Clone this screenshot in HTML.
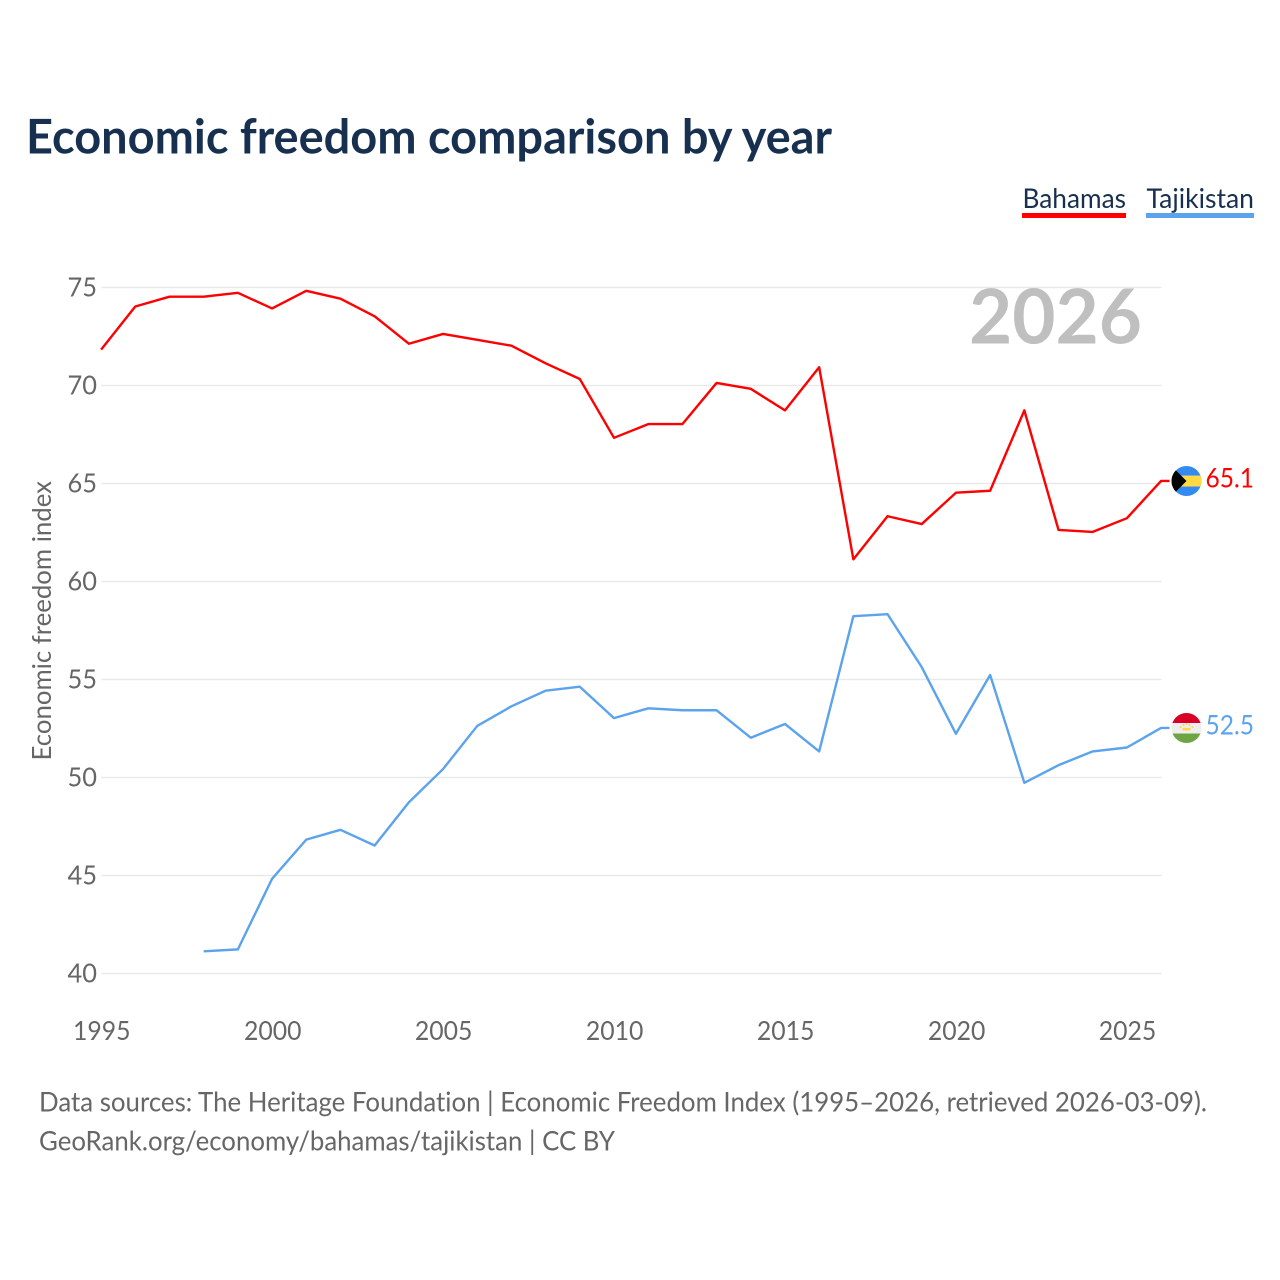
<!DOCTYPE html>
<html lang="en">
<head>
<meta charset="utf-8">
<title>Economic freedom comparison by year</title>
<style>
html,body{margin:0;padding:0;background:#fff;width:1280px;height:1280px;overflow:hidden}
svg{display:block}
text{font-family:"Lato","Carlito","Liberation Sans",sans-serif;font-variant-ligatures:none}
</style>
</head>
<body>
<svg id="chart" xmlns="http://www.w3.org/2000/svg" width="1280" height="1280" viewBox="0 0 1280 1280">
  <defs>
    <clipPath id="clip-bs"><circle cx="0" cy="0" r="15"/></clipPath>
    <clipPath id="clip-tj"><circle cx="0" cy="0" r="15"/></clipPath>
  </defs>
  <rect x="0" y="0" width="1280" height="1280" fill="#ffffff"/>
  <text x="26" y="153.5" font-size="48" font-weight="700" fill="#18304f" textLength="806" lengthAdjust="spacingAndGlyphs">Economic freedom comparison by year</text>

  <g>
    <text x="1022.5" y="208" font-size="27" fill="#18304f" textLength="103.5" lengthAdjust="spacingAndGlyphs">Bahamas</text>
    <rect x="1022" y="213" width="104" height="5" fill="#ff0000"/>
  </g>
  <g>
    <text x="1146.5" y="208" font-size="27" fill="#18304f" textLength="107.5" lengthAdjust="spacingAndGlyphs">Tajikistan</text>
    <rect x="1146" y="213" width="108" height="5" fill="#5ba3ec"/>
  </g>

  <g id="grid"></g>
  <g id="y-ticks"></g>
  <g id="x-ticks"></g>

  <text x="969" y="343.3" font-size="76" font-weight="700" fill="#bfbfbf" textLength="173" lengthAdjust="spacingAndGlyphs">2026</text>

  <text transform="translate(51,760.5) rotate(-90)" x="0" y="0" font-size="26" fill="#666666" textLength="279.5" lengthAdjust="spacingAndGlyphs">Economic freedom index</text>

  <g id="series"></g>

  <g id="flag-bs">
    <g clip-path="url(#clip-bs)">
      <rect x="-15" y="-15" width="30" height="30" fill="#338af3"/>
      <rect x="-15" y="-5.5" width="30" height="11" fill="#ffda44"/>
      <polygon points="-15,-15 0,0 -15,15" fill="#000000"/>
    </g>
  </g>
  <g id="flag-tj">
    <g clip-path="url(#clip-tj)">
      <rect x="-15" y="-15" width="30" height="10" fill="#d80027"/>
      <rect x="-15" y="-5" width="30" height="11" fill="#eeeeee"/>
      <rect x="-15" y="5.5" width="30" height="10" fill="#6da544"/>
      <rect x="-4" y="0" width="8" height="2.5" fill="#ffda44"/>
      <circle cx="-6" cy="-1" r="1" fill="#ffda44"/>
      <circle cx="-3" cy="-3" r="1" fill="#ffda44"/>
      <circle cx="0" cy="-4" r="1" fill="#ffda44"/>
      <circle cx="3" cy="-3" r="1" fill="#ffda44"/>
      <circle cx="6" cy="-1" r="1" fill="#ffda44"/>
    </g>
  </g>

  <g id="end-labels"></g>

  <text x="39" y="1111.5" font-size="27" fill="#666666" textLength="1168" lengthAdjust="spacingAndGlyphs">Data sources: The Heritage Foundation | Economic Freedom Index (1995–2026, retrieved 2026-03-09).</text>
  <text x="39" y="1150.5" font-size="27" fill="#666666" textLength="576" lengthAdjust="spacingAndGlyphs">GeoRank.org/economy/bahamas/tajikistan | CC BY</text>
</svg>

<script>
const years = [1995,1996,1997,1998,1999,2000,2001,2002,2003,2004,2005,2006,2007,2008,2009,2010,2011,2012,2013,2014,2015,2016,2017,2018,2019,2020,2021,2022,2023,2024,2025,2026];
const bahamasValues = [71.8,74.0,74.5,74.5,74.7,73.9,74.8,74.4,73.5,72.1,72.6,72.3,72.0,71.1,70.3,67.3,68.0,68.0,70.1,69.8,68.7,70.9,61.1,63.3,62.9,64.5,64.6,68.7,62.6,62.5,63.2,65.1];
const tajikistanValues = [null,null,null,41.1,41.2,44.8,46.8,47.3,46.5,48.7,50.4,52.6,53.6,54.4,54.6,53.0,53.5,53.4,53.4,52.0,52.7,51.3,58.2,58.3,55.6,52.2,55.2,49.7,50.6,51.3,51.5,52.5];
const yTickValues = [40,45,50,55,60,65,70,75];
const xTickValues = [1995,2000,2005,2010,2015,2020,2025];

const NS = 'http://www.w3.org/2000/svg';
const plotLeft = 101.5, plotRight = 1161.5, plotTop = 287.5, plotBottom = 973.5;
const lineShiftX = -0.4, lineShiftY = -0.6;
function xScale(year) {
  return plotLeft + (year - 1995) * (plotRight - plotLeft) / (2026 - 1995);
}
function yScale(value) {
  return plotBottom - (value - 40) * (plotBottom - plotTop) / (75 - 40);
}
function make(tag, attrs, parent) {
  const el = document.createElementNS(NS, tag);
  for (const k in attrs) el.setAttribute(k, attrs[k]);
  parent.appendChild(el);
  return el;
}

const grid = document.getElementById('grid');
const yTicks = document.getElementById('y-ticks');
yTickValues.forEach(function (v) {
  const line = make('line', {x1: plotLeft, x2: plotRight, y1: yScale(v), y2: yScale(v), stroke: '#e9e9e9', 'stroke-width': 1.5}, grid);
  
  
  const t = make('text', {x: 67.5, y: yScale(v) + 9, 'font-size': 26.5, fill: '#666666', textLength: 29.5, lengthAdjust: 'spacingAndGlyphs'}, yTicks);
  
  
  t.textContent = String(v);
});

const xTicks = document.getElementById('x-ticks');
xTickValues.forEach(function (v) {
  const t = make('text', {x: xScale(v) - 28.5, y: 1040, 'font-size': 26.5, fill: '#666666', textLength: 57.5, lengthAdjust: 'spacingAndGlyphs'}, xTicks);
  
  
  t.textContent = String(v);
});

function linePath(values) {
  let d = '';
  values.forEach(function (v, i) {
    if (v === null) return;
    d += (d ? 'L' : 'M') + (xScale(years[i]) + lineShiftX).toFixed(2) + ' ' + (yScale(v) + lineShiftY).toFixed(2);
  });
  const lastValue = values[values.length - 1];
  d += 'L' + (xScale(years[years.length - 1]) + 8).toFixed(2) + ' ' + (yScale(lastValue) + lineShiftY).toFixed(2);
  return d;
}
const seriesGroup = document.getElementById('series');
const bahamasLine = make('path', {d: linePath(bahamasValues), fill: 'none', stroke: '#ff0000', 'stroke-width': 2.4, 'stroke-linejoin': 'round'}, seriesGroup);


const tajikistanLine = make('path', {d: linePath(tajikistanValues), fill: 'none', stroke: '#5ba3ec', 'stroke-width': 2.4, 'stroke-linejoin': 'round'}, seriesGroup);



const lastBahamas = bahamasValues[bahamasValues.length - 1];
const lastTajikistan = tajikistanValues[tajikistanValues.length - 1];
const lastX = xScale(years[years.length - 1]);
document.getElementById('flag-bs').setAttribute('transform', 'translate(' + (lastX + 25) + ',' + (yScale(lastBahamas) - 0.5) + ')');
document.getElementById('flag-tj').setAttribute('transform', 'translate(' + (lastX + 25) + ',' + (yScale(lastTajikistan) - 0.5) + ')');

const endLabels = document.getElementById('end-labels');
const bahamasEnd = make('text', {x: 1205.5, y: yScale(lastBahamas) + 6, 'font-size': 27, fill: '#ff0000', textLength: 48.5, lengthAdjust: 'spacingAndGlyphs'}, endLabels);


bahamasEnd.textContent = lastBahamas.toFixed(1);
const tajikistanEnd = make('text', {x: 1205.5, y: yScale(lastTajikistan) + 6, 'font-size': 27, fill: '#5ba3ec', textLength: 48.5, lengthAdjust: 'spacingAndGlyphs'}, endLabels);


tajikistanEnd.textContent = lastTajikistan.toFixed(1);
</script>
</body>
</html>
